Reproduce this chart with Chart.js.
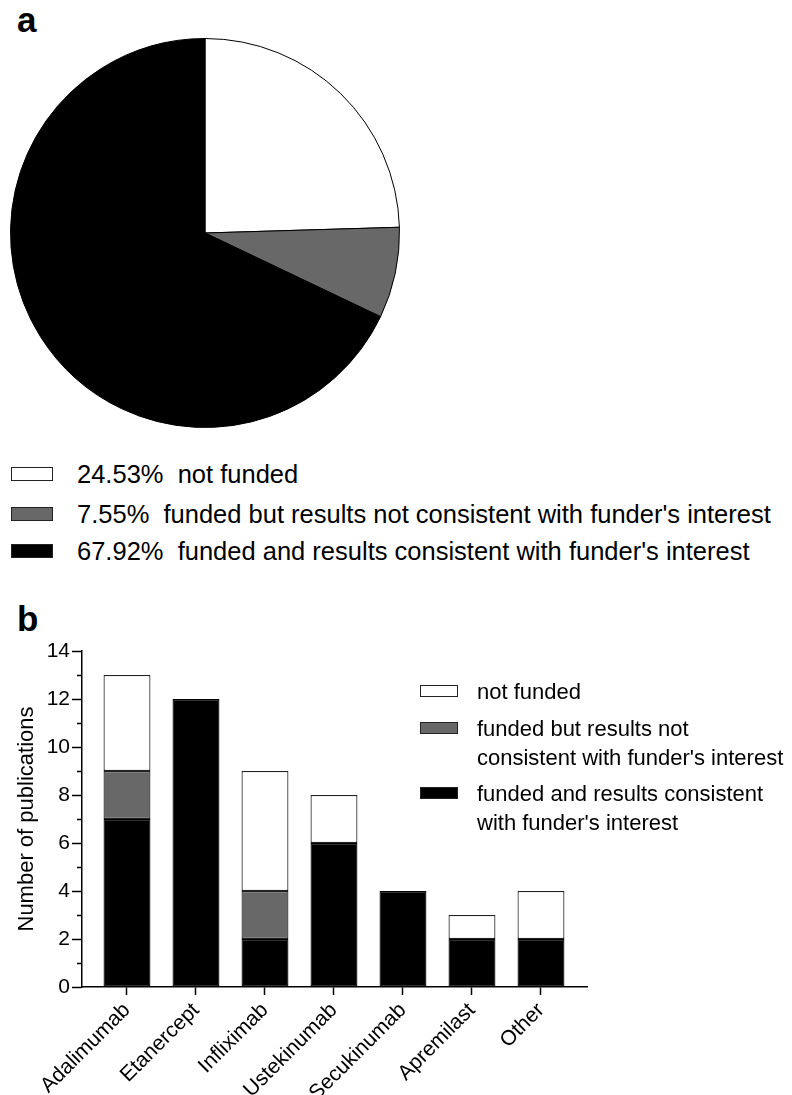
<!DOCTYPE html>
<html lang="en">
<head>
<meta charset="UTF-8" />
<title>Funding and results consistency</title>
<script src="https://cdn.jsdelivr.net/npm/chart.js"></script>
<style>
  body { margin: 0; background: #fff; font-family: "Liberation Sans", Arial, sans-serif; color: #000; }
  #page { position: relative; width: 792px; height: 1095px; overflow: hidden; }
  .panel { position: absolute; left: 17px; font-weight: bold; font-size: 35px; line-height: 35px; }
  canvas { position: absolute; }
  .box { position: absolute; box-sizing: border-box; border: 1.5px solid #222; }
  .txt { position: absolute; white-space: pre; }
</style>
</head>
<body>
<div id="page">
  <div class="panel" style="top:2px">a</div>
  <div class="panel" style="top:601px">b</div>
  <canvas id="pie" width="390" height="390" style="left:10px;top:38px"></canvas>
  <canvas id="bars" width="792" height="495" style="left:0;top:600px"></canvas>
</div>

<script>
  // panel a
  const pieLabels = ['not funded', "funded but results not consistent with funder's interest", "funded and results consistent with funder's interest"];
  const piePercent = [24.53, 7.55, 67.92];

  // panel b
  const drugs = ['Adalimumab', 'Etanercept', 'Infliximab', 'Ustekinumab', 'Secukinumab', 'Apremilast', 'Other'];
  const fundedConsistent = [7, 12, 2, 6, 4, 2, 2];
  const fundedNotConsistent = [2, 0, 2, 0, 0, 0, 0];
  const notFunded = [4, 0, 5, 2, 0, 1, 2];
  const barLegend = [['not funded'], ['funded but results not', "consistent with funder's interest"], ['funded and results consistent', "with funder's interest"]];
  const yMax = 14;

  const colors = ['#ffffff', '#686868', '#000000'];
  const page = document.getElementById('page');

  function addLegendRow(color, text, boxX, boxW, boxH, textX, fontSize, lineH, cy) {
    const box = document.createElement('div');
    box.className = 'box';
    box.style.cssText = `left:${boxX}px;top:${cy - boxH / 2}px;width:${boxW}px;height:${boxH}px;background:${color}`;
    page.appendChild(box);
    const t = document.createElement('div');
    t.className = 'txt';
    t.style.cssText = `left:${textX}px;top:${cy - lineH / 2}px;font-size:${fontSize}px;line-height:${lineH}px`;
    t.textContent = text;
    page.appendChild(t);
  }

  // pie legend
  [474, 514, 551].forEach((cy, i) => {
    addLegendRow(colors[i], piePercent[i].toFixed(2) + '%  ' + pieLabels[i], 11, 42, 14, 77, 25.5, 30, cy);
  });

  // bar legend
  [691, 728, 793].forEach((cy, i) => {
    addLegendRow(colors[i], barLegend[i].join('\n'), 420, 38, 12, 477, 22, 29, cy);
  });

  new Chart(document.getElementById('pie'), {
    type: 'pie',
    data: {
      labels: pieLabels,
      datasets: [{
        data: piePercent,
        backgroundColor: colors,
        borderColor: '#000',
        borderWidth: 1
      }]
    },
    options: {
      responsive: false,
      animation: false,
      devicePixelRatio: 1,
      layout: { padding: 0 },
      plugins: { legend: { display: false }, tooltip: { enabled: false } }
    }
  });

  const toPoints = arr => arr.map((v, i) => ({ x: i, y: v || null }));

  // short ticks on odd values of the y axis
  const minorTicks = {
    id: 'minorTicks',
    afterDraw(chart) {
      const y = chart.scales.y;
      const ctx = chart.ctx;
      ctx.save();
      ctx.strokeStyle = '#000';
      ctx.lineWidth = 1.5;
      for (let v = 1; v < yMax; v += 2) {
        const py = Math.round(y.getPixelForValue(v)) + 0.5;
        ctx.beginPath();
        ctx.moveTo(y.right - 5, py);
        ctx.lineTo(y.right, py);
        ctx.stroke();
      }
      ctx.restore();
    }
  };

  const font = { family: '"Liberation Sans", Arial, sans-serif', size: 21 };

  new Chart(document.getElementById('bars'), {
    type: 'bar',
    data: {
      datasets: [
        { label: 'consistent', data: toPoints(fundedConsistent), backgroundColor: colors[2], borderColor: '#000' },
        { label: 'not consistent', data: toPoints(fundedNotConsistent), backgroundColor: colors[1] },
        { label: 'not funded', data: toPoints(notFunded), backgroundColor: colors[0] }
      ]
    },
    options: {
      responsive: false,
      animation: false,
      devicePixelRatio: 1,
      layout: { padding: { top: 51, right: 205, left: 0, bottom: 0 } },
      datasets: {
        bar: { barPercentage: 0.68, categoryPercentage: 1, borderColor: '#222', borderWidth: 1.2, borderSkipped: false }
      },
      scales: {
        x: {
          type: 'linear',
          offset: false,
          stacked: true,
          min: -0.652,
          max: 6.667,
          afterFit: s => { s.height = 108; },
          grid: { offset: false, drawOnChartArea: false, tickLength: 8, tickColor: '#000', tickWidth: 1.5 },
          border: { color: '#000', width: 1.5 },
          ticks: {
            stepSize: 1,
            includeBounds: false,
            autoSkip: false,
            minRotation: 45,
            maxRotation: 45,
            padding: 3,
            color: '#000',
            font,
            callback: v => drugs[v] ?? ''
          }
        },
        y: {
          stacked: true,
          min: 0,
          max: yMax,
          afterFit: s => { s.width = 82; },
          grid: {
            drawOnChartArea: false,
            tickLength: 10,
            tickWidth: 1.5,
            tickColor: c => (c.tick && c.tick.value % 2 === 0) ? '#000' : 'rgba(0,0,0,0)'
          },
          border: { color: '#000', width: 1.5 },
          ticks: {
            stepSize: 1,
            padding: 2,
            color: '#000',
            font,
            callback: v => v % 2 === 0 ? v : ''
          },
          title: {
            display: true,
            text: 'Number of publications',
            color: '#000',
            font: { family: font.family, size: 22 },
            padding: { top: 14, bottom: 0 }
          }
        }
      },
      plugins: { legend: { display: false }, tooltip: { enabled: false } }
    },
    plugins: [minorTicks]
  });
</script>
</body>
</html>
